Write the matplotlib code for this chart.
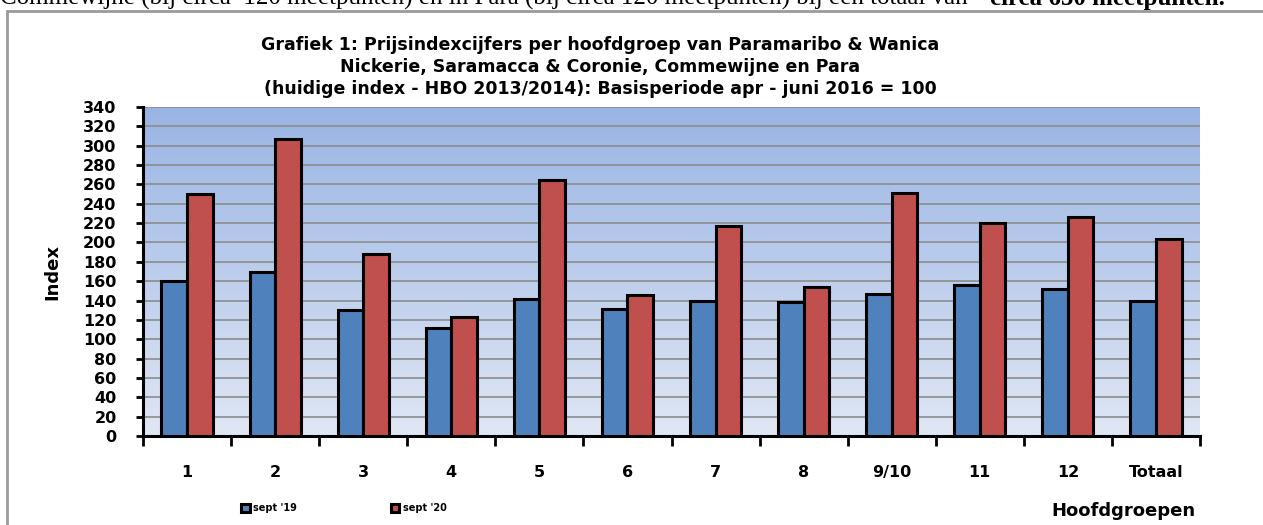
import numpy as np
from matplotlib import pyplot as plt
from matplotlib.patches import Rectangle

groups = ['1', '2', '3', '4', '5', '6', '7', '8', '9/10', '11', '12', 'Totaal']
sept19 = [160, 170, 130, 112, 142, 131, 139, 138, 147, 156, 152, 140]
sept20 = [250, 307, 188, 123, 265, 146, 217, 154, 251, 220, 226, 204]
yticks = list(range(0, 341, 20))

fig = plt.figure(figsize=(12.63, 5.25), dpi=100)

# text cut off at the top of the page
fig.text(0.0, 1 - 5 / 525, 'Commewijne (bij circa  120 meetpunten) en in Para (bij circa 120 meetpunten) bij een totaal van ',
         family='Liberation Serif', fontsize=18, va='baseline', ha='left')
fig.text(990 / 1263, 1 - 5 / 525, 'circa 650 meetpunten.', family='Liberation Serif', fontsize=18,
         fontweight='bold', va='baseline', ha='left')

# chart frame
fig.patches.append(Rectangle((7 / 1263, -0.05), 1.05, 1 - 11 / 525 + 0.05,
                             transform=fig.transFigure, fill=False, ec='#9a9a9a', lw=2))

ax = fig.add_axes([143 / 1263, 1 - 436 / 525, (1200 - 143) / 1263, (436 - 107) / 525])

# gradient background
grad = np.linspace(0, 1, 256).reshape(-1, 1)
top = np.array([153, 180, 228]) / 255
bot = np.array([224, 231, 244]) / 255
img = top * (1 - grad[..., None]) + bot * grad[..., None]
ax.imshow(img, extent=[0, 1, 0, 1], transform=ax.transAxes, aspect='auto', zorder=0)

x = np.arange(len(groups))
w = 0.29
ax.bar(x - w / 2, sept19, w, color='#4f81bd', edgecolor='black', lw=2.2, zorder=3, label="sept '19")
ax.bar(x + w / 2, sept20, w, color='#c0504d', edgecolor='black', lw=2.2, zorder=3, label="sept '20")

ax.set_xlim(-0.5, len(groups) - 0.5)
ax.set_ylim(0, 340)
ax.set_yticks(yticks)
ax.set_yticklabels([str(v) for v in yticks], fontsize=11.5, fontweight='bold')
ax.yaxis.grid(True, color='#8c8c8c', lw=1.2, zorder=1)
ax.set_axisbelow(True)

ax.set_xticks(np.arange(-0.5, len(groups), 1))
ax.set_xticklabels([])
ax.set_xticks(x, minor=True)
ax.set_xticklabels(groups, minor=True, fontsize=11.5, fontweight='bold')
ax.tick_params(axis='x', which='minor', length=0, pad=21)
ax.tick_params(axis='x', which='major', length=7, width=2, direction='out')
ax.tick_params(axis='y', length=5, width=2, direction='out', pad=14)

for s in ['top', 'right']:
    ax.spines[s].set_visible(False)
ax.spines['left'].set_linewidth(2.2)
ax.spines['bottom'].set_linewidth(2.2)

ax.set_ylabel('Index', fontsize=13, fontweight='bold', labelpad=16)

fig.text(600 / 1263, 1 - 67 / 525,
         'Grafiek 1: Prijsindexcijfers per hoofdgroep van Paramaribo & Wanica\n'
         'Nickerie, Saramacca & Coronie, Commewijne en Para\n'
         '(huidige index - HBO 2013/2014): Basisperiode apr - juni 2016 = 100',
         ha='center', va='center', fontsize=12.5, fontweight='bold', linespacing=1.3)

fig.text(1123 / 1263, 1 - 511 / 525, 'Hoofdgroepen', ha='center', va='center',
         fontsize=13, fontweight='bold')

leg = fig.legend(loc='center left', bbox_to_anchor=(232 / 1263, 1 - 508 / 525), ncol=2,
                 frameon=False, fontsize=7, handlelength=0.9, handleheight=0.9,
                 columnspacing=9.6, handletextpad=0.4)
for t in leg.get_texts():
    t.set_fontweight('bold')

fig.savefig('out.png', dpi=100)
